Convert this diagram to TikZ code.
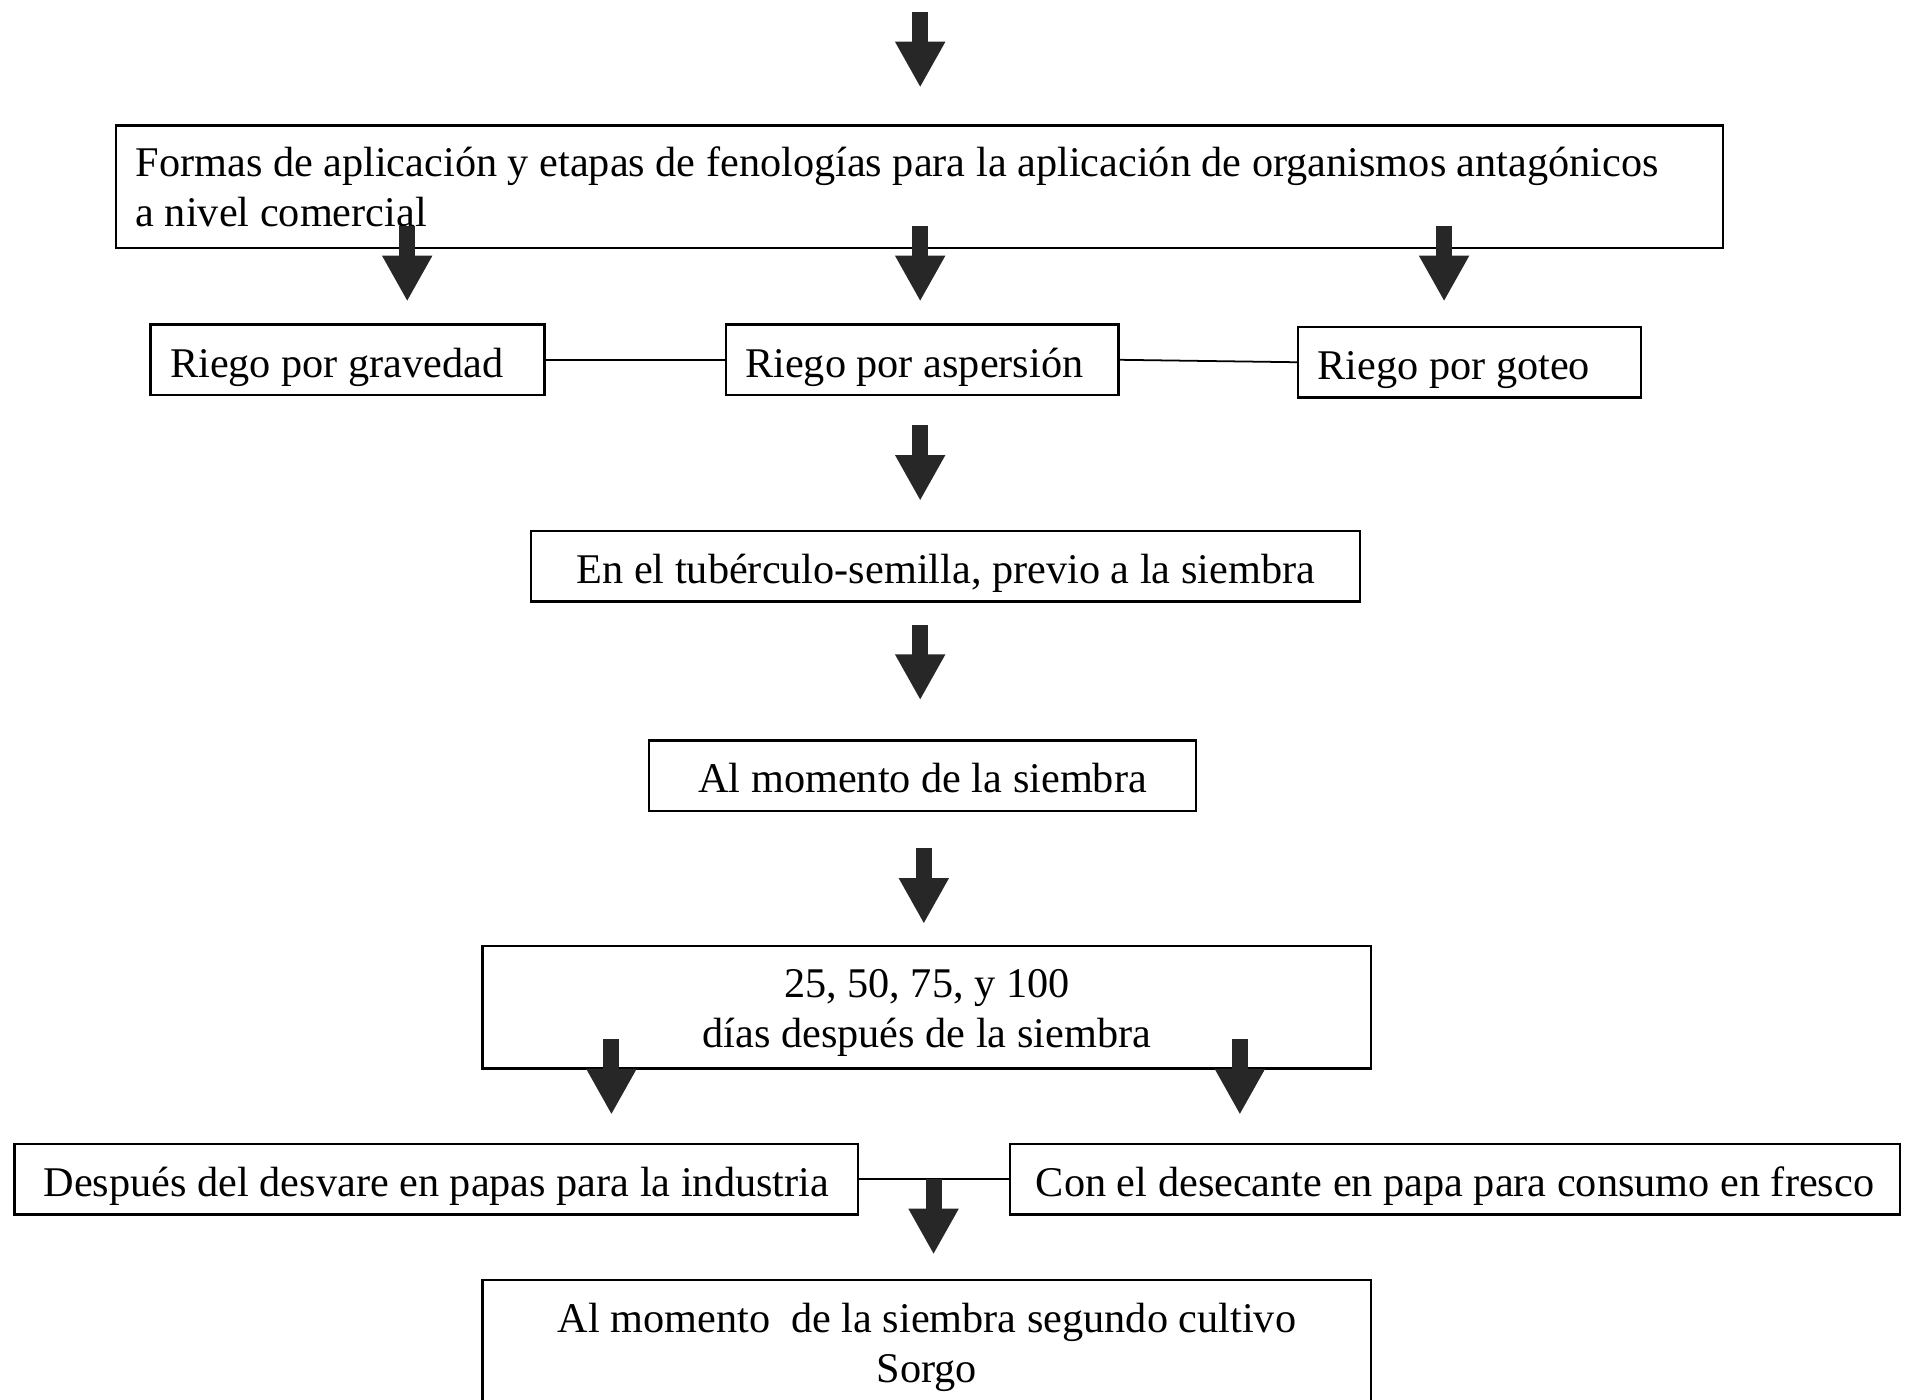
\documentclass[tikz,border=0pt]{standalone}
\usepackage{fontspec}
\setmainfont{Liberation Serif}
\usetikzlibrary{arrows.meta,positioning}
\definecolor{arrowink}{HTML}{272727}
\tikzset{
  box/.style={draw=black,line width=0.7pt,inner sep=0pt,
              font=\fontsize{12}{14.2}\selectfont,align=center},
  onebox/.style={box,minimum height=20pt,text height=12.4pt,text depth=2.6pt},
  leftbox/.style={onebox,align=flush left,inner xsep=5.5pt},
  blockarr/.style={draw=arrowink,line width=4.55pt,
                   -{Triangle[width=13.3pt,length=13pt]}},
  joinline/.style={draw=black,line width=0.5pt}
}

\begin{document}
\begin{tikzpicture}[x=0.345pt,y=-0.345pt]
    \useasboundingbox (0,0) rectangle (1568,1151);
    \node[box,align=flush left,inner xsep=5.5pt,text width=445pt,minimum height=34.8pt] (formas) at (756.5,153.5)
      {Formas de aplicación y etapas de fenologías para la aplicación de organismos antagónicos\\
       a nivel comercial};
    \node[leftbox,text width=100.8pt] (gravedad) at (286,296)
      {Riego por gravedad};
    \node[leftbox,text width=100.4pt] (aspersion) at (758.5,296)
      {Riego por aspersión};
    \node[leftbox,text width=86.3pt] (goteo) at (1209,298)
      {Riego por goteo};
    \node[onebox,minimum width=235.3pt] (tuberculo) at (778,466)
      {En el tubérculo-semilla, previo a la siembra};
    \node[onebox,minimum width=155.3pt] (siembra) at (759,638)
      {Al momento de la siembra};
    \node[box,minimum width=252.2pt,minimum height=34.8pt] (dias) at (762.5,828.5)
      {\rule{0pt}{11.5pt}25, 50, 75, y 100\\ días después de la siembra};
    \node[onebox,minimum width=239.4pt] (desvare) at (359,970)
      {Después del desvare en papas para la industria};
    \node[onebox,minimum width=252.5pt] (desecante) at (1197,970)
      {Con el desecante en papa para consumo en fresco};
    \node[box,minimum width=252.2pt,minimum height=36.6pt] (sorgo) at (762.5,1106)
      {\rule{0pt}{10.1pt}Al momento\ \ de la siembra segundo cultivo\\ Sorgo};

    \draw[joinline] (gravedad.east) -- (aspersion.west);
    \draw[joinline] (aspersion.east) -- (goteo.west);
    \draw[joinline] (desvare.east) -- (desecante.west);

    % block arrows
    \foreach \n/\x/\ya/\yb in {0/757/10/72, 1/335/186/248, 2/757/186/248,
        3/1188/186/248, 4/757/350/412, 5/757/514/576, 6/760/698/760,
        7/503/855/917, 8/1020/855/917, 9/768/970/1032} {
      \coordinate (top\n) at (\x,\ya);
      \coordinate (tip\n) at (\x,\yb);
      \draw[blockarr] (top\n) -- (tip\n);
    }
  \end{tikzpicture}
\end{document}
